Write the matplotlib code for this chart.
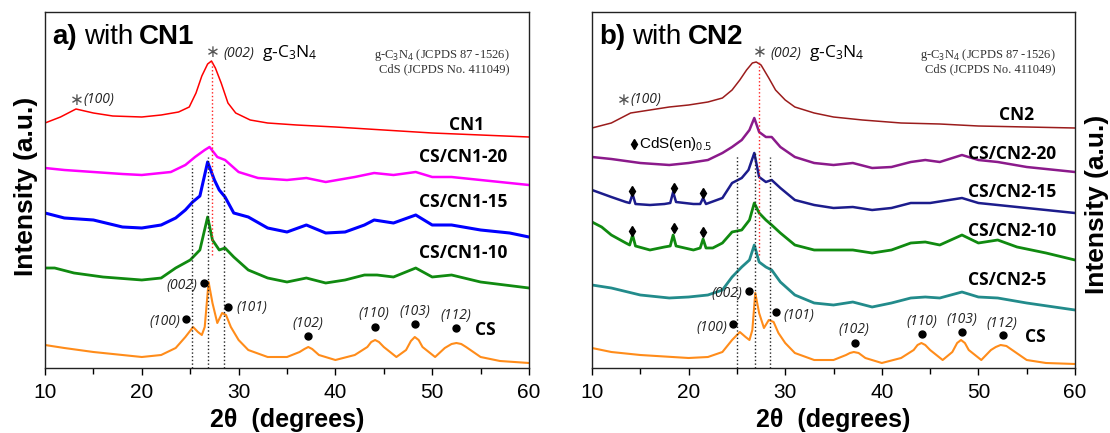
import matplotlib.pyplot as plt
from matplotlib.ticker import MultipleLocator

plt.rcParams['font.family'] = ['Liberation Sans', 'DejaVu Sans']
plt.rcParams['mathtext.fontset'] = 'custom'
plt.rcParams['mathtext.rm'] = 'Open Sans'
plt.rcParams['mathtext.it'] = 'Open Sans:italic'
plt.rcParams['mathtext.bf'] = 'Open Sans:bold'

# ---- panel a: CdS with CN1 (intensity in arbitrary units, stacked) ----
cn1_2t = [10, 11.6, 13.2, 15, 17, 20, 22, 23.8, 24.9, 25.6, 26.2, 26.8, 27.2, 27.6, 28.2,
          28.9, 29.7, 31.2, 33, 36, 40, 45, 50, 55, 60]
cn1_i = [245, 251, 259, 255, 252, 251, 253, 256, 261, 275, 292, 304, 307, 300, 285,
         265, 255, 248, 245, 243, 241, 238, 235, 233, 231]

cs_cn1_20_2t = [10, 12, 15, 18, 20, 23, 24.5, 25.5, 26.5, 27, 27.8, 28.6, 30, 32, 35, 37,
                39, 42, 44, 46, 48.3, 50, 52, 55, 60]
cs_cn1_20_i = [200, 198, 196, 194, 193, 196, 203, 211, 218, 221, 211, 208, 196, 190, 188, 190,
               186, 191, 195, 193, 196, 191, 191, 188, 183]

cs_cn1_15_2t = [10, 12, 15, 18, 20, 22, 23.5, 24.5, 25.25, 26, 26.8, 27.5, 28, 28.6, 29.5, 31,
                33, 35, 37, 39, 41, 43, 44, 46, 48.3, 50, 52, 55, 58, 60]
cs_cn1_15_i = [155, 150, 148, 141, 140, 143, 150, 158, 166, 172, 206, 188, 178, 171, 155, 151,
               140, 136, 143, 135, 136, 143, 148, 145, 153, 143, 143, 138, 135, 131]

cs_cn1_10_2t = [10, 11, 13, 16, 20, 22, 23.5, 25, 26, 26.8, 27.3, 28, 28.6, 29.5, 31, 33, 35,
                37, 39, 41, 43, 44.3, 46, 48.3, 50, 52, 55, 60]
cs_cn1_10_i = [100, 100, 95, 91, 88, 90, 100, 108, 118, 151, 128, 118, 120, 111, 98, 90, 86,
               90, 85, 88, 93, 93, 91, 100, 91, 93, 86, 80]

cs_a_2t = [10, 12, 15, 20, 22, 23.5, 24.5, 25.3, 25.8, 26.2, 26.5, 26.9, 27.3, 27.8, 28.3, 28.7,
           29.2, 30, 31, 33, 35, 36.3, 36.8, 37.2, 37.6, 38.3, 40, 42, 43.3, 43.7, 44.1, 44.5,
           45, 46.3, 47.3, 47.8, 48.2, 48.6, 49, 50.3, 51.3, 52, 52.5, 53, 53.5, 55, 57, 60]
cs_a_i = [23, 20, 16, 11, 13, 20, 31, 41, 36, 33, 41, 86, 65, 45, 55, 53,
          41, 28, 18, 11, 11, 16, 19, 21, 19, 13, 8, 13, 21, 26, 28, 26,
          21, 11, 18, 27, 31, 28, 21, 11, 20, 24, 25, 24, 21, 11, 7, 5]

# ---- panel b: CdS with CN2 ----
cn2_2t = [10, 12, 13, 14, 16, 18, 20, 22, 23.5, 24.5, 25.3, 26, 26.6, 27, 27.5, 28.3, 29, 30,
          31, 33, 35, 38, 42, 46, 50, 55, 60]
cn2_i = [240, 245, 250, 255, 258, 261, 263, 266, 270, 278, 288, 298, 305, 306, 303, 290, 278, 268,
         261, 255, 251, 248, 245, 244, 242, 241, 240]

cs_cn2_20_2t = [10, 12, 15, 18, 20, 22, 23.5, 24.5, 25.5, 26.3, 26.8, 27.3, 28, 28.6, 29.5, 31,
                33, 35, 37, 39, 41, 43, 44.5, 46, 48.3, 50, 52, 55, 60]
cs_cn2_20_i = [211, 209, 205, 203, 205, 208, 215, 221, 228, 238, 250, 236, 231, 231, 221, 211,
               205, 203, 205, 200, 201, 206, 208, 206, 213, 208, 206, 201, 196]

cs_cn2_15_2t = [10, 12, 13.5, 13.9, 14.2, 14.5, 16, 17.5, 18.1, 18.4, 18.7, 20.5, 21.2, 21.5, 21.8,
                23.5, 24.5, 25.5, 26.2, 26.8, 27.3, 28, 28.6, 29.5, 31, 33, 35, 37, 39, 41, 43,
                45, 48.3, 50, 52, 55, 60]
cs_cn2_15_i = [178, 171, 166, 165, 174, 164, 163, 164, 165, 176, 166, 164, 164, 170, 164,
               170, 185, 190, 198, 215, 191, 186, 188, 180, 168, 163, 160, 161, 158, 160, 165,
               165, 170, 165, 163, 160, 155]

cs_cn2_10_2t = [10, 11, 12, 13.5, 13.9, 14.2, 14.5, 16, 17.5, 18.1, 18.4, 18.7, 20.5, 21.2, 21.5,
                21.8, 22.5, 23.5, 24.5, 25.5, 26.3, 26.8, 27.3, 28, 28.6, 29.5, 31, 33, 35, 37,
                39, 41, 43, 44.5, 46, 48.3, 50, 52, 54, 57, 60]
cs_cn2_10_i = [146, 141, 133, 125, 123, 133, 122, 118, 121, 122, 133, 122, 118, 120, 129,
               120, 120, 125, 136, 138, 148, 165, 155, 148, 143, 135, 123, 118, 118, 118,
               115, 118, 125, 126, 123, 133, 125, 128, 121, 115, 108]

cs_cn2_5_2t = [10, 12, 15, 18, 20, 22, 23.5, 24.5, 25.5, 26.3, 26.8, 27.3, 28, 28.6, 29.5, 31,
               33, 35, 37, 39, 41, 43, 44.5, 46, 48.3, 50, 52, 55, 60]
cs_cn2_5_i = [83, 80, 73, 70, 71, 73, 78, 91, 101, 108, 123, 106, 101, 98, 86, 73,
              65, 63, 66, 61, 65, 70, 71, 70, 76, 71, 70, 65, 58]

cs_b_2t = [10, 12, 15, 20, 22, 23.5, 24.5, 25.3, 25.9, 26.3, 26.6, 26.9, 27.3, 27.8, 28.3, 28.8,
           29.3, 30, 31, 33, 35, 36.3, 36.7, 37.1, 37.6, 38.3, 40, 42, 43.3, 43.7, 44.1, 44.5,
           45, 46.3, 47.3, 47.8, 48.2, 48.6, 49, 50.3, 51.3, 51.8, 52.3, 52.9, 53.5, 55, 57, 60]
cs_b_i = [20, 16, 13, 10, 11, 16, 28, 36, 31, 28, 38, 75, 55, 40, 48, 46,
          35, 25, 15, 8, 8, 13, 15, 16, 15, 10, 5, 10, 18, 23, 25, 23,
          18, 8, 16, 25, 28, 25, 18, 8, 18, 21, 23, 22, 18, 8, 5, 4]

# CdS reflections (hkl) and the dot heights above the CS pattern
hkl = ['(100)', '(002)', '(101)', '(102)', '(110)', '(103)', '(112)']
cds_2t_a = [24.55, 26.4, 28.95, 37.2, 44.1, 48.2, 52.5]
cds_i_a = [49, 85, 61, 32, 41, 44, 40]
cds_2t_b = [24.6, 26.3, 29.0, 37.2, 44.2, 48.3, 52.5]
cds_i_b = [44, 77, 56, 25, 34, 36, 33]

# CdS(en)0.5 reflections marked on CS/CN2-15 and CS/CN2-10
cden_2t = [14.17, 18.45, 21.5]
cden_i_15 = [177, 180, 175]
cden_i_10 = [137, 140, 136]

# guide lines: CdS (100)/(002)/(101) and g-C3N4 (002)
guide_cds_a = [25.14, 26.84, 28.46]
guide_top_a = [203, 211, 205]
guide_cds_b = [25.06, 26.87, 28.43]
guide_top_b = [213, 216, 211]
guide_cn_a = 27.28
guide_cn_b = 27.24

panel_a = [
    (cn1_2t, cn1_i, '#ff0000', 1.1, 'CN1', 53.5, 243),
    (cs_cn1_20_2t, cs_cn1_20_i, '#ff00ff', 1.8, 'CS/CN1-20', 53.2, 211),
    (cs_cn1_15_2t, cs_cn1_15_i, '#0000ff', 2.2, 'CS/CN1-15', 53.2, 166),
    (cs_cn1_10_2t, cs_cn1_10_i, '#108a10', 2.0, 'CS/CN1-10', 53.2, 115),
    (cs_a_2t, cs_a_i, '#ff8c1a', 1.5, 'CS', 55.5, 38),
]
panel_b = [
    (cn2_2t, cn2_i, '#9b1c1c', 1.1, 'CN2', 53.9, 253),
    (cs_cn2_20_2t, cs_cn2_20_i, '#8b1a8b', 1.8, 'CS/CN2-20', 53.5, 214),
    (cs_cn2_15_2t, cs_cn2_15_i, '#1c1c8c', 1.8, 'CS/CN2-15', 53.5, 176),
    (cs_cn2_10_2t, cs_cn2_10_i, '#108a10', 2.0, 'CS/CN2-10', 53.5, 137),
    (cs_cn2_5_2t, cs_cn2_5_i, '#228b8b', 2.0, 'CS/CN2-5', 53.0, 88),
    (cs_b_2t, cs_b_i, '#ff8c1a', 1.5, 'CS', 55.9, 31),
]

# hkl label placement: (x, y, ha)
hkl_pos_a = [(23.95, 47, 'right'), (25.7, 82, 'right'), (29.75, 60, 'left'),
             (37.14, 45, 'center'), (44.0, 54, 'center'), (48.2, 56, 'center'),
             (52.4, 52, 'center')]
hkl_pos_b = [(23.97, 41, 'right'), (25.6, 75, 'right'), (29.85, 53, 'left'),
             (37.1, 38, 'center'), (44.1, 46, 'center'), (48.3, 49, 'center'),
             (52.4, 45, 'center')]

fig = plt.figure(figsize=(11.1, 4.33), dpi=100)
ax1 = fig.add_axes([45 / 1110, 65 / 433, 484 / 1110, 356 / 433])
ax2 = fig.add_axes([592 / 1110, 65 / 433, 483 / 1110, 356 / 433])


def draw_panel(ax, series, tag, name, dots_x, dots_y, hkl_pos, guide_x, guide_top, red_x):
    for x, y, c, lw, lab, lx, ly in series:
        ax.plot(x, y, color=c, lw=lw, solid_joinstyle='round')
        ax.text(lx, ly, lab, family='Open Sans', fontweight='bold', fontsize=12.5,
                ha='center', va='center')

    for gx, gt in zip(guide_x, guide_top):
        ax.plot([gx, gx], [0, gt], ls=':', color='#222222', lw=1)
    ax.plot([red_x, red_x], [113, 307], ls=':', color='#ff2020', lw=1)

    ax.plot(dots_x, dots_y, 'o', color='black', ms=5, ls='none')
    for lab, (hx, hy, ha) in zip(hkl, hkl_pos):
        ax.text(hx, hy, lab, family='Open Sans', style='italic', fontsize=10,
                color='#222222', ha=ha, va='center')

    # g-C3N4 reflections
    ax.text(27.35, 316, '\u2217', family='DejaVu Sans', fontsize=12, color='#555555',
            ha='center', va='center')
    ax.text(28.45, 311, '(002)', family='Open Sans', style='italic', fontsize=10,
            color='#222222', va='baseline')
    ax.text(32.45, 311, 'g-C$_3$N$_4$', family='Open Sans', fontsize=12.5, va='baseline')
    ax.text(13.25, 268, '\u2217', family='DejaVu Sans', fontsize=12, color='#555555',
            ha='center', va='center')
    ax.text(14.0, 265, '(100)', family='Open Sans', style='italic', fontsize=10,
            color='#222222', va='baseline')

    # reference cards
    ax.text(0.96, 0.862, 'g-C$_3$N$_4$ (JCPDS 87 -1526)\nCdS (JCPDS No. 411049)',
            transform=ax.transAxes, family='Liberation Serif', fontsize=9, color='#333333',
            ha='right', va='center', multialignment='right', linespacing=1.0)

    # panel heading
    t1 = ax.text(0.0145, 0.91, tag, transform=ax.transAxes, fontsize=20,
                 fontweight='bold', va='baseline')
    t2 = ax.annotate('with', xy=(1, 0), xycoords=t1, xytext=(5, 0),
                     textcoords='offset points', fontsize=20, va='bottom')
    ax.annotate(name, xy=(1, 0), xycoords=t2, xytext=(4.5, 0),
                textcoords='offset points', fontsize=20, fontweight='bold', va='bottom')

    ax.set_xlim(10, 60)
    ax.set_ylim(0, 356)
    ax.set_yticks([])
    ax.xaxis.set_major_locator(MultipleLocator(10))
    ax.xaxis.set_minor_locator(MultipleLocator(5))
    ax.tick_params(axis='x', which='major', direction='out', length=5, width=1,
                   labelsize=15, pad=6)
    ax.tick_params(axis='x', which='minor', direction='out', length=4, width=1)
    for s in ax.spines.values():
        s.set_linewidth(1)
        s.set_color('#222222')
    ax.set_xlabel('2\u03b8  (degrees)', fontsize=18, fontweight='bold', labelpad=4)


draw_panel(ax1, panel_a, 'a)', 'CN1', cds_2t_a, cds_i_a, hkl_pos_a,
           guide_cds_a, guide_top_a, guide_cn_a)
draw_panel(ax2, panel_b, 'b)', 'CN2', cds_2t_b, cds_i_b, hkl_pos_b,
           guide_cds_b, guide_top_b, guide_cn_b)

# CdS(en)0.5 markers
ax2.plot(cden_2t, cden_i_15, 'd', color='black', ms=5, ls='none')
ax2.plot(cden_2t, cden_i_10, 'd', color='black', ms=5, ls='none')
ax2.plot([14.35], [224], 'd', color='black', ms=5)
ax2.text(14.9, 224, 'CdS(en)$_{0.5}$', fontsize=11, va='center')

fig.text(26 / 1110, 1 - 186 / 433, 'Intensity (a.u.)', rotation=90, fontsize=19,
         fontweight='bold', ha='center', va='center')
fig.text(1097 / 1110, 1 - 204 / 433, 'Intensity (a.u.)', rotation=90, fontsize=19,
         fontweight='bold', ha='center', va='center')

fig.savefig('out.png', dpi=100)
